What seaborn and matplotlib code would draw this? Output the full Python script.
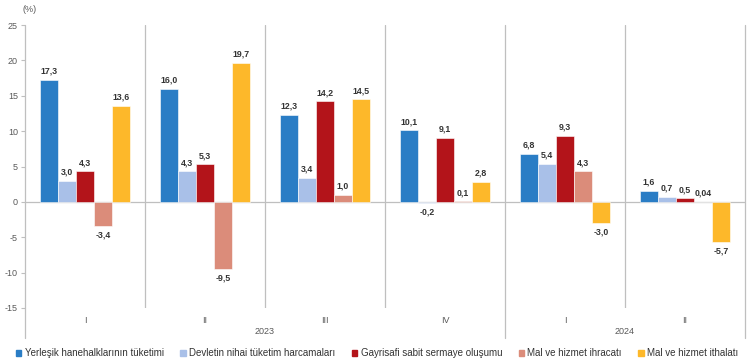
import pandas as pd
import matplotlib.pyplot as plt
import seaborn as sns

# ── Data ─────────────────────────────────────────────────────
quarters = ["I", "II", "III", "IV", "I", "II"]
years = ["2023", "2023", "2023", "2023", "2024", "2024"]
series = [
    "Yerleşik hanehalklarının tüketimi",
    "Devletin nihai tüketim harcamaları",
    "Gayrisafi sabit sermaye oluşumu",
    "Mal ve hizmet ihracatı",
    "Mal ve hizmet ithalatı",
]
household = [17.3, 16.0, 12.3, 10.1, 6.8, 1.6]
government = [3.0, 4.3, 3.4, -0.2, 5.4, 0.7]
investment = [4.3, 5.3, 14.2, 9.1, 9.3, 0.5]
exports = [-3.4, -9.5, 1.0, 0.1, 4.3, 0.04]
imports = [13.6, 19.7, 14.5, 2.8, -3.0, -5.7]
colors = ["#2A7DC5", "#A9C0E8", "#B3141A", "#DB8C7A", "#FDB82A"]

keys = [f"{y}-{q}" for y, q in zip(years, quarters)]
rows = []
for name, vals in zip(series, [household, government, investment, exports, imports]):
    for k, v in zip(keys, vals):
        rows.append({"period": k, "series": name, "value": v})
df = pd.DataFrame(rows)

# ── Style ────────────────────────────────────────────────────
sns.set_theme(style="white")
plt.rcParams['font.family'] = ['Liberation Sans', 'DejaVu Sans']
plt.rcParams['axes.unicode_minus'] = False
grey = "#BFBFBF"

fig = plt.figure(figsize=(7.5, 3.64), dpi=100)
ax = fig.add_axes([0.0333, 0.154, 0.96, 0.777])

sns.barplot(data=df, x="period", y="value", hue="series", order=keys,
            hue_order=series, palette=colors, saturation=1, width=0.75, ax=ax,
            edgecolor="white", linewidth=0.4, legend=False)


def fmt(v):
    s = f"{v:.2f}" if 0 < abs(v) < 0.1 else f"{v:.1f}"
    return s.replace(".", ",")


for cont, vals in zip(ax.containers, [household, government, investment, exports, imports]):
    for bar, v in zip(cont, vals):
        x = bar.get_x() + bar.get_width() / 2
        if v >= 0:
            ax.annotate(fmt(v), (x, v), xytext=(0, 3), textcoords="offset points",
                        ha="center", va="bottom", fontsize=6.3, fontweight="bold", color="#333333")
        else:
            ax.annotate(fmt(v), (x, v), xytext=(0, -3), textcoords="offset points",
                        ha="center", va="top", fontsize=6.3, fontweight="bold", color="#333333")

ax.set_xlim(-0.5, 5.5)
ax.set_ylim(-15, 25)
ax.set_yticks(range(-15, 26, 5))
ax.tick_params(axis="y", labelsize=6.5, labelcolor="#595959", color=grey,
               length=3, width=0.8, left=True, pad=2)
ax.set_xticks(range(len(keys)))
ax.set_xticklabels(quarters, fontsize=6.5, color="#595959")
ax.tick_params(axis="x", length=0, pad=6)
ax.set_xlabel("")
ax.set_ylabel("")
for s in ax.spines.values():
    s.set_visible(False)

# zero line and separators
ax.axhline(0, color=grey, lw=0.9, zorder=0)
for xs in [0.5, 1.5, 2.5, 4.5]:
    ax.plot([xs, xs], [-15, 25], color=grey, lw=0.9, zorder=0)
for xs in [-0.5, 3.5, 5.5]:
    ax.plot([xs, xs], [-19.2, 25], color=grey, lw=0.9, zorder=0, clip_on=False)

ax.text(1.5, -18.4, "2023", ha="center", va="center", fontsize=6.5, color="#595959")
ax.text(4.5, -18.4, "2024", ha="center", va="center", fontsize=6.5, color="#595959")
fig.text(0.04, 0.985, "(%)", ha="center", va="top", fontsize=6.5, color="#595959")

handles = [plt.Rectangle((0, 0), 1, 1, color=c) for c in colors]
fig.legend(handles, series, loc="center", bbox_to_anchor=(0.503, 0.03), ncol=5,
           frameon=False, fontsize=7, handlelength=0.55, handleheight=0.55,
           handletextpad=0.35, columnspacing=1.7, labelcolor="#333333",
           borderaxespad=0, borderpad=0)

plt.savefig("out.png", dpi=100)
